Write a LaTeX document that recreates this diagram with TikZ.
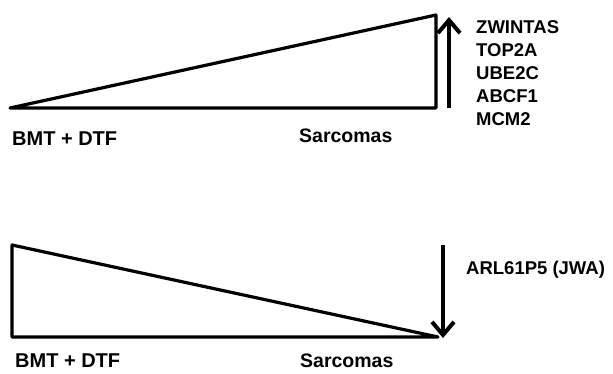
\documentclass[tikz,border=0pt]{standalone}
\usepackage{fontspec}
\setmainfont{Liberation Sans}
\usetikzlibrary{arrows.meta}
\tikzset{
  wedge/.style={line width=3.2pt, line join=round},
  trend/.style={line width=3.8pt, -{Straight Barb[length=13pt,width=22pt,line width=4pt]}},
  lbl/.style={inner sep=0pt, anchor=west, font=\bfseries\fontsize{#1}{23}\selectfont},
  lbl/.default=18.5,
}
\begin{document}
\begin{tikzpicture}[x=1pt,y=-1pt]
                \useasboundingbox (0,0) rectangle (613,373);

                \coordinate (upL) at (10,108);
                \coordinate (upR) at (436,108);
                \coordinate (upT) at (436,15);
                \coordinate (upA) at (449,108);
                \coordinate (upB) at (449,17);

                \coordinate (dnT) at (12,245);
                \coordinate (dnL) at (12,337);
                \coordinate (dnR) at (438,337);
                \coordinate (dnA) at (443,245);
                \coordinate (dnB) at (443,338);

                \node[lbl=20] (bmt1) at (12,139) {BMT + DTF};
                \node[lbl=19.5] (sar1) at (299,136) {Sarcomas};
                \node[lbl, align=left] (genes) at (476,73) {ZWINTAS\\TOP2A\\UBE2C\\ABCF1\\MCM2};

                \node[lbl=20] (bmt2) at (15,361) {BMT + DTF};
                \node[lbl=19.5] (sar2) at (300,361) {Sarcomas};
                \node[lbl] (jwa) at (466,270) {ARL61P5 (JWA)};

                \draw[wedge] (upL) -- (upR) -- (upT) -- cycle;
                \draw[trend] (upA) -- (upB);

                \draw[wedge] (dnT) -- (dnL) -- (dnR) -- cycle;
                \draw[trend] (dnA) -- (dnB);
            \end{tikzpicture}
\end{document}
